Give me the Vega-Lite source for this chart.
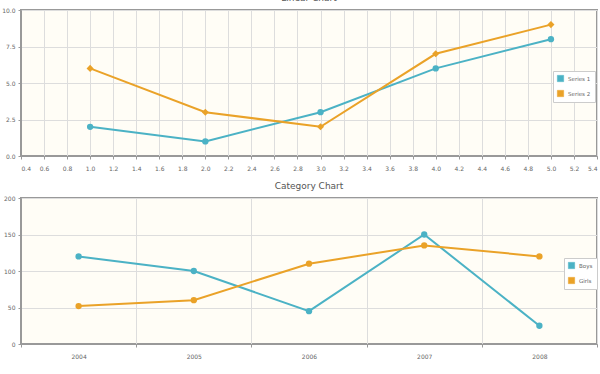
{
  "$schema": "https://vega.github.io/schema/vega-lite/v6.json",
  "padding": {"left": 0, "top": -7, "right": 4, "bottom": 0},
  "background": "white",
  "spacing": 9,
  "resolve": {"scale": {"color": "independent"}, "legend": {"color": "independent"}},
  "config": {
    "font": "DejaVu Sans",
    "view": {"fill": "#fffdf6", "stroke": "#999999", "strokeWidth": 2},
    "axis": {
      "labelFontSize": 6, "labelColor": "#666666", "gridColor": "#dddddd", "gridWidth": 1,
      "domainColor": "#999999", "tickColor": "#999999", "tickSize": 3, "labelPadding": 3, "title": null
    },
    "title": {"fontSize": 9, "fontWeight": "normal", "color": "#555555", "offset": 4},
    "legend": {
      "orient": "none", "strokeColor": "#cccccc", "fillColor": "white", "padding": 4,
      "labelFontSize": 5.5, "labelColor": "#666666", "symbolType": "square", "symbolSize": 40,
      "symbolStrokeWidth": 0.5, "rowPadding": 6, "labelOffset": 4, "title": null
    }
  },
  "datasets": {
    "linear": [
      {"x": 1, "y": 2, "series": "Series 1"},
      {"x": 2, "y": 1, "series": "Series 1"},
      {"x": 3, "y": 3, "series": "Series 1"},
      {"x": 4, "y": 6, "series": "Series 1"},
      {"x": 5, "y": 8, "series": "Series 1"},
      {"x": 1, "y": 6, "series": "Series 2"},
      {"x": 2, "y": 3, "series": "Series 2"},
      {"x": 3, "y": 2, "series": "Series 2"},
      {"x": 4, "y": 7, "series": "Series 2"},
      {"x": 5, "y": 9, "series": "Series 2"}
    ],
    "category": [
      {"year": "2004", "value": 120, "group": "Boys"},
      {"year": "2005", "value": 100, "group": "Boys"},
      {"year": "2006", "value": 45, "group": "Boys"},
      {"year": "2007", "value": 150, "group": "Boys"},
      {"year": "2008", "value": 25, "group": "Boys"},
      {"year": "2004", "value": 52, "group": "Girls"},
      {"year": "2005", "value": 60, "group": "Girls"},
      {"year": "2006", "value": 110, "group": "Girls"},
      {"year": "2007", "value": 135, "group": "Girls"},
      {"year": "2008", "value": 120, "group": "Girls"}
    ]
  },
  "vconcat": [
    {
      "title": "Linear Chart",
      "width": 576,
      "height": 146,
      "data": {"name": "linear"},
      "encoding": {
        "x": {"field": "x", "type": "quantitative", "scale": {"domain": [0.4, 5.4], "nice": false},
          "axis": {"values": [0.4,0.6,0.8,1.0,1.2,1.4,1.6,1.8,2.0,2.2,2.4,2.6,2.8,3.0,3.2,3.4,3.6,3.8,4.0,4.2,4.4,4.6,4.8,5.0,5.2,5.4], "format": ".1f", "labelPadding": 6}},
        "y": {"field": "y", "type": "quantitative", "scale": {"domain": [0, 10], "nice": false},
          "axis": {"values": [0, 2.5, 5, 7.5, 10], "format": ".1f"}},
        "color": {"field": "series", "type": "nominal",
          "scale": {"domain": ["Series 1", "Series 2"], "range": ["#4bb2c5", "#eaa228"]},
          "legend": {"legendX": 532, "legendY": 61}}
      },
      "layer": [
        {"mark": {"type": "line", "strokeWidth": 2}},
        {"transform": [{"filter": "datum.series === 'Series 1'"}],
          "mark": {"type": "point", "filled": true, "opacity": 1, "size": 40, "shape": "circle"}},
        {"transform": [{"filter": "datum.series === 'Series 2'"}],
          "mark": {"type": "point", "filled": true, "opacity": 1, "size": 50, "shape": "diamond"}}
      ]
    },
    {
      "title": "Category Chart",
      "width": 576,
      "height": 146,
      "data": {"name": "category"},
      "encoding": {
        "x": {"field": "year", "type": "ordinal", "scale": {"type": "band", "paddingInner": 0, "paddingOuter": 0},
          "axis": {"labelAngle": 0, "tickBand": "extent", "grid": true, "labelPadding": 6,
            "title": "Season", "titleFontSize": 9, "titleFontWeight": "normal", "titleColor": "#444444",
            "titleAnchor": "start", "titleAlign": "left", "titleX": -19, "titlePadding": 16}},
        "y": {"field": "value", "type": "quantitative", "scale": {"domain": [0, 200], "nice": false},
          "axis": {"values": [0, 50, 100, 150, 200]}},
        "color": {"field": "group", "type": "nominal",
          "scale": {"domain": ["Boys", "Girls"], "range": ["#4bb2c5", "#eaa228"]},
          "legend": {"legendX": 543, "legendY": 60}}
      },
      "layer": [
        {"mark": {"type": "line", "strokeWidth": 2}},
        {"mark": {"type": "point", "filled": true, "opacity": 1, "size": 40, "shape": "circle"}}
      ]
    }
  ]
}
